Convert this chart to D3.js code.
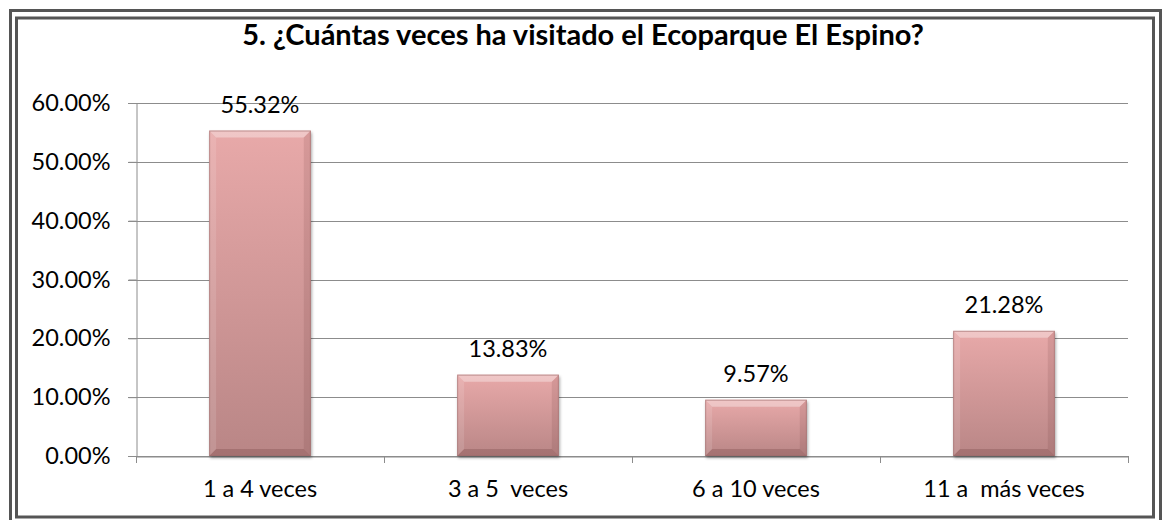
<!DOCTYPE html>
<html>
<head>
<meta charset="utf-8">
<script src="https://cdn.jsdelivr.net/npm/d3@7"></script>
<style>
  body { margin: 0; background: #fff; }
  svg text { font-family: Lato, "Open Sans", sans-serif; fill: #000; white-space: pre; }
</style>
</head>
<body>
<svg id="chart" width="1163" height="520"></svg>
<script>
// values from the survey chart
const categories = ['1 a 4 veces', '3 a 5  veces', '6 a 10 veces', '11 a  más veces'];
const values = [0.5532, 0.1383, 0.0957, 0.2128];
const yTicks = [0, 0.1, 0.2, 0.3, 0.4, 0.5, 0.6];
const title = '5. ¿Cuántas veces ha visitado el Ecoparque El Espino?';

const svg = d3.select('#chart');
const plotLeft = 136, plotRight = 1128, plotTop = 103, plotBottom = 456;

// double frame
svg.append('rect').attr('x', 10.5).attr('y', 10.5).attr('width', 1150).attr('height', 520)
  .attr('fill', 'none').attr('stroke', '#555').attr('stroke-width', 3);
svg.append('rect').attr('x', 16.5).attr('y', 18).attr('width', 1137).attr('height', 499)
  .attr('fill', '#fff').attr('stroke', '#555').attr('stroke-width', 3);

svg.append('text').attr('x', 583).attr('y', 45).attr('text-anchor', 'middle')
  .attr('font-size', 29).attr('font-weight', 700).text(title);

const x = d3.scaleBand().domain(categories).range([plotLeft, plotRight]).paddingInner(0).paddingOuter(0);
const y = d3.scaleLinear().domain([0, 0.6]).range([plotBottom, plotTop]);

// gridlines
svg.append('g').selectAll('line').data(yTicks).enter().append('line')
  .attr('x1', plotLeft - 8).attr('x2', plotRight)
  .attr('y1', d => Math.round(y(d)) + 0.5).attr('y2', d => Math.round(y(d)) + 0.5)
  .attr('stroke', '#8c8c8c').attr('stroke-width', 1);

// y axis
const yAxis = svg.append('g').attr('transform', `translate(${plotLeft + 0.5},0)`)
  .call(d3.axisLeft(y).tickValues(yTicks).tickSize(8).tickPadding(18).tickFormat(d => (d * 100).toFixed(2) + '%'));
yAxis.select('.domain').attr('stroke', '#8c8c8c');
yAxis.selectAll('.tick line').attr('stroke', '#8c8c8c');
yAxis.selectAll('text').attr('font-size', 23.5).attr('font-family', 'Lato, sans-serif');

// x axis
const xAxis = svg.append('g').attr('transform', `translate(0,${Math.round(plotBottom) + 0.5})`)
  .call(d3.axisBottom(x).tickSize(0).tickPadding(24));
xAxis.select('.domain').attr('stroke', '#8c8c8c');
xAxis.selectAll('text').attr('font-size', 23.5).attr('font-family', 'Lato, sans-serif');
// category separators
svg.append('g').selectAll('line').data(d3.range(categories.length + 1)).enter().append('line')
  .attr('x1', i => plotLeft + i * x.step() + 0.5).attr('x2', i => plotLeft + i * x.step() + 0.5)
  .attr('y1', plotBottom).attr('y2', plotBottom + 7).attr('stroke', '#8c8c8c');

// bar gradient
const defs = svg.append('defs');
const grad = defs.append('linearGradient').attr('id', 'barGrad').attr('x1', 0).attr('y1', 0).attr('x2', 0).attr('y2', 1);
grad.append('stop').attr('offset', '0%').attr('stop-color', '#e8a9a9');
grad.append('stop').attr('offset', '100%').attr('stop-color', '#b98686');
const shadow = defs.append('filter').attr('id', 'shadow').attr('x', '-10%').attr('y', '-10%').attr('width', '130%').attr('height', '130%');
shadow.append('feDropShadow').attr('dx', 1).attr('dy', 2).attr('stdDeviation', 1.5).attr('flood-color', '#000').attr('flood-opacity', 0.35);

const bw = x.bandwidth() * 0.41;
const bev = 7;
const bars = svg.append('g').selectAll('g').data(values).enter().append('g');
bars.each(function (d, i) {
  const g = d3.select(this);
  const x0 = x(categories[i]) + (x.bandwidth() - bw) / 2, x1 = x0 + bw;
  const y0 = y(d), y1 = y(0);
  g.append('rect').attr('x', x0).attr('y', y0).attr('width', bw).attr('height', y1 - y0)
    .attr('fill', 'url(#barGrad)').attr('filter', 'url(#shadow)');
  // bevel edges
  g.append('polygon').attr('points', `${x0},${y0} ${x1},${y0} ${x1 - bev},${y0 + bev} ${x0 + bev},${y0 + bev}`)
    .attr('fill', '#fff').attr('opacity', 0.35);
  g.append('polygon').attr('points', `${x0},${y0} ${x0 + bev},${y0 + bev} ${x0 + bev},${y1 - bev} ${x0},${y1}`)
    .attr('fill', '#fff').attr('opacity', 0.12);
  g.append('polygon').attr('points', `${x1},${y0} ${x1 - bev},${y0 + bev} ${x1 - bev},${y1 - bev} ${x1},${y1}`)
    .attr('fill', '#5a2a2a').attr('opacity', 0.12);
  g.append('polygon').attr('points', `${x0},${y1} ${x0 + bev},${y1 - bev} ${x1 - bev},${y1 - bev} ${x1},${y1}`)
    .attr('fill', '#5a2a2a').attr('opacity', 0.22);
  g.append('rect').attr('x', x0 + 0.5).attr('y', y0 + 0.5).attr('width', bw - 1).attr('height', y1 - y0 - 1)
    .attr('fill', 'none').attr('stroke', '#9c6a6a').attr('stroke-opacity', 0.6);
  g.append('text').attr('x', (x0 + x1) / 2).attr('y', y0 - 18).attr('text-anchor', 'middle')
    .attr('font-size', 23.5).text((d * 100).toFixed(2) + '%');
});
</script>
</body>
</html>
